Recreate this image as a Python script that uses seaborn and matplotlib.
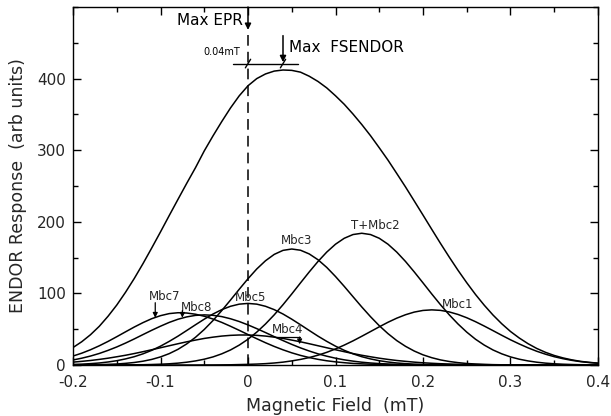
import numpy as np
import pandas as pd
import matplotlib
matplotlib.use("Agg")
import matplotlib.pyplot as plt
import seaborn as sns
from matplotlib.ticker import MultipleLocator

# ---- data (field step 0.01 mT) ----
field = [-0.20, -0.19, -0.18, -0.17, -0.16, -0.15, -0.14, -0.13, -0.12, -0.11,
         -0.10, -0.09, -0.08, -0.07, -0.06, -0.05, -0.04, -0.03, -0.02, -0.01,
         0.00, 0.01, 0.02, 0.03, 0.04, 0.05, 0.06, 0.07, 0.08, 0.09,
         0.10, 0.11, 0.12, 0.13, 0.14, 0.15, 0.16, 0.17, 0.18, 0.19,
         0.20, 0.21, 0.22, 0.23, 0.24, 0.25, 0.26, 0.27, 0.28, 0.29,
         0.30, 0.31, 0.32, 0.33, 0.34, 0.35, 0.36, 0.37, 0.38, 0.39, 0.40]

total = [24.4, 32.5, 42.3, 54.0, 68.0, 83.7, 101.5, 120.8, 141.6, 163.5,
         185.9, 208.8, 231.4, 253.8, 275.6, 299.0, 320.0, 340.0, 359.0, 376.0,
         390.0, 400.0, 406.5, 410.5, 412.0, 411.5, 409.0, 403.3, 396.0, 387.0,
         376.0, 364.1, 350.5, 335.9, 320.3, 303.4, 286.1, 267.5, 248.7, 229.1,
         209.4, 189.5, 169.8, 150.7, 132.3, 114.9, 98.5, 83.5, 69.8, 57.6,
         46.8, 37.7, 29.8, 23.1, 17.7, 13.3, 9.9, 7.2, 5.1, 3.7, 2.6]

mbc1 = [0, 0, 0, 0, 0, 0, 0, 0, 0, 0,
        0, 0, 0, 0, 0, 0.1, 0.1, 0.2, 0.3, 0.6,
        0.9, 1.3, 1.9, 2.8, 4.0, 5.7, 7.8, 10.4, 13.7, 17.7,
        22.4, 27.8, 33.7, 40.1, 46.7, 53.3, 59.7, 65.4, 70.2, 73.9,
        76.2, 77.0, 76.3, 74.1, 70.6, 66.0, 60.5, 54.4, 48.0, 41.5,
        35.2, 29.4, 24.0, 19.2, 15.1, 11.6, 8.8, 6.5, 4.7, 3.4, 2.4]

t_mbc2 = [0, 0, 0, 0, 0.1, 0.1, 0.2, 0.3, 0.4, 0.7,
          1.1, 1.7, 2.6, 3.9, 5.7, 8.1, 11.3, 15.6, 21.0, 27.8,
          36.0, 45.9, 57.3, 70.1, 84.2, 99.2, 114.7, 130.0, 144.6, 157.7,
          168.7, 177.0, 182.2, 184.0, 182.2, 177.0, 168.7, 157.7, 144.6, 130.0,
          114.7, 99.2, 84.2, 70.1, 57.3, 45.9, 36.0, 27.8, 21.0, 15.6,
          11.3, 8.1, 5.7, 3.9, 2.6, 1.7, 1.1, 0.7, 0.4, 0.3, 0.2]

mbc3 = [0.1, 0.2, 0.3, 0.5, 0.9, 1.4, 2.3, 3.5, 5.3, 7.8,
        11.3, 15.9, 21.9, 29.5, 38.7, 49.6, 62.1, 76.0, 90.7, 105.8,
        120.5, 134.1, 145.6, 154.5, 160.1, 162.0, 160.3, 155.1, 147.0, 136.3,
        123.6, 109.8, 95.4, 81.1, 67.5, 54.9, 43.8, 34.1, 26.1, 19.5,
        14.2, 10.2, 7.1, 4.9, 3.3, 2.1, 1.4, 0.9, 0.5, 0.3,
        0.2, 0.1, 0.1, 0, 0, 0, 0, 0, 0, 0, 0]

mbc4 = [4.0, 5.1, 6.3, 7.8, 9.5, 11.5, 13.6, 16.0, 18.6, 21.3,
        24.1, 26.9, 29.7, 32.4, 34.8, 37.1, 38.9, 40.4, 41.4, 41.9,
        41.9, 41.4, 40.4, 38.9, 37.1, 34.8, 32.4, 29.7, 26.9, 24.1,
        21.3, 18.6, 16.0, 13.6, 11.5, 9.5, 7.8, 6.3, 5.1, 4.0,
        3.1, 2.4, 1.8, 1.4, 1.0, 0.8, 0.6, 0.4, 0.3, 0.2,
        0.1, 0.1, 0, 0, 0, 0, 0, 0, 0, 0, 0]

mbc5 = [0.8, 1.2, 1.9, 2.8, 4.2, 6.0, 8.5, 11.6, 15.6, 20.5,
        26.3, 33.0, 40.3, 48.2, 56.2, 64.0, 71.2, 77.3, 82.0, 85.0,
        86.0, 85.0, 82.0, 77.3, 71.2, 64.0, 56.2, 48.2, 40.3, 33.0,
        26.3, 20.5, 15.6, 11.6, 8.5, 6.0, 4.2, 2.8, 1.9, 1.2,
        0.8, 0.5, 0.3, 0.2, 0.1, 0.1, 0, 0, 0, 0,
        0, 0, 0, 0, 0, 0, 0, 0, 0, 0, 0]

mbc7 = [12.5, 16.5, 21.3, 26.8, 32.9, 39.5, 46.3, 53.0, 59.2, 64.7,
        68.9, 71.8, 73.0, 72.6, 70.9, 68.1, 64.2, 59.5, 54.1, 48.4,
        42.5, 36.7, 31.1, 25.9, 21.2, 17.0, 13.4, 10.4, 7.9, 5.9,
        4.4, 3.2, 2.2, 1.6, 1.1, 0.7, 0.5, 0.3, 0.2, 0.1,
        0.1, 0, 0, 0, 0, 0, 0, 0, 0, 0,
        0, 0, 0, 0, 0, 0, 0, 0, 0, 0, 0]

mbc8 = [7.0, 9.5, 12.5, 16.1, 20.4, 25.2, 30.6, 36.4, 42.5, 48.5,
        54.2, 59.5, 63.9, 67.2, 69.3, 70.0, 69.4, 67.6, 64.6, 60.7,
        56.0, 50.8, 45.3, 39.6, 34.1, 28.8, 23.9, 19.5, 15.6, 12.3,
        9.5, 7.2, 5.4, 3.9, 2.8, 2.0, 1.4, 0.9, 0.6, 0.4,
        0.3, 0.2, 0.1, 0, 0, 0, 0, 0, 0, 0,
        0, 0, 0, 0, 0, 0, 0, 0, 0, 0, 0]

curve_names = ["FSENDOR", "Mbc1", "T+Mbc2", "Mbc3", "Mbc4", "Mbc5", "Mbc7", "Mbc8"]
curve_values = [total, mbc1, t_mbc2, mbc3, mbc4, mbc5, mbc7, mbc8]

x_ticks = [-0.2, -0.1, 0.0, 0.1, 0.2, 0.3, 0.4]
x_tick_labels = ["-0.2", "-0.1", "0", "0.1", "0.2", "0.3", "0.4"]
y_ticks = [0, 100, 200, 300, 400]
y_tick_labels = ["0", "100", "200", "300", "400"]

# ---- build long-form table ----
rows = []
for name, vals in zip(curve_names, curve_values):
    for xv, yv in zip(field, vals):
        rows.append({"field": xv, "response": yv, "curve": name})
df = pd.DataFrame(rows)

sns.set_theme(style="ticks")
plt.rcParams['font.family'] = ['DejaVu Sans']
plt.rcParams['axes.linewidth'] = 1.0

fig = plt.figure(figsize=(6.11, 4.16), dpi=100)
W, H = 611, 416
left, right, top, bottom = 73, 598, 7, 365
ax = fig.add_axes([left / W, 1 - bottom / H, (right - left) / W, (bottom - top) / H])

sns.lineplot(data=df, x="field", y="response", hue="curve", units="curve",
             estimator=None, sort=False, palette={n: "black" for n in curve_names},
             legend=False, linewidth=1.1, ax=ax)

ax.set_xlim(-0.2, 0.4)
ax.set_ylim(0, 500)
ax.set_xticks(x_ticks)
ax.set_xticklabels(x_tick_labels)
ax.set_yticks(y_ticks)
ax.set_yticklabels(y_tick_labels)
ax.xaxis.set_minor_locator(MultipleLocator(0.05))
ax.yaxis.set_minor_locator(MultipleLocator(50))
ax.tick_params(which="both", direction="in", top=True, right=True, color="black")
ax.tick_params(which="major", length=6, width=1.0, labelsize=11)
ax.tick_params(axis="x", which="major", pad=7)
ax.tick_params(axis="y", which="major", pad=5)
ax.tick_params(which="minor", length=3.5, width=1.0)
for s in ax.spines.values():
    s.set_color("black")

ax.set_xlabel("Magnetic Field  (mT)", fontsize=12.5, labelpad=5)
ax.set_ylabel("ENDOR Response  (arb units)", fontsize=12.5, labelpad=7)

# dashed line at max EPR
ax.plot([0, 0], [0, 462], color="black", lw=1.1, linestyle=(0, (7, 4)))

# Max EPR arrow + text
ax.annotate("", xy=(0, 468), xytext=(0, 500),
            arrowprops=dict(arrowstyle="-|>", color="black", lw=1.1, mutation_scale=9,
                            shrinkA=0, shrinkB=0), annotation_clip=False)
ax.text(-0.006, 481, "Max EPR", ha="right", va="center", fontsize=11, color="black")

# Max FSENDOR arrow + text
ax.annotate("", xy=(0.04, 423), xytext=(0.04, 460),
            arrowprops=dict(arrowstyle="-|>", color="black", lw=1.1, mutation_scale=9,
                            shrinkA=0, shrinkB=0))
ax.text(0.047, 444, "Max  FSENDOR", ha="left", va="center", fontsize=11, color="black")

# 0.04 mT bar
ax.plot([-0.017, 0.057], [421, 421], color="black", lw=1.0)
for xm in (0.0, 0.04):
    ax.plot([xm - 0.003, xm + 0.003], [415, 427], color="black", lw=1.0)
ax.text(-0.03, 437, "0.04mT", ha="center", va="center", fontsize=7, color="black")

# curve labels
lab_fs = 8.5
ax.text(-0.095, 95, "Mbc7", ha="center", va="center", fontsize=lab_fs)
ax.text(-0.059, 81, "Mbc8", ha="center", va="center", fontsize=lab_fs)
ax.text(0.003, 94, "Mbc5", ha="center", va="center", fontsize=lab_fs)
ax.text(0.045, 49, "Mbc4", ha="center", va="center", fontsize=lab_fs)
ax.text(0.055, 174, "Mbc3", ha="center", va="center", fontsize=lab_fs)
ax.text(0.145, 195, "T+Mbc2", ha="center", va="center", fontsize=lab_fs)
ax.text(0.24, 84, "Mbc1", ha="center", va="center", fontsize=lab_fs)

arrow_kw = dict(arrowstyle="-|>", color="black", lw=0.9, mutation_scale=7, shrinkA=0, shrinkB=0)
ax.annotate("", xy=(-0.106, 66), xytext=(-0.106, 87), arrowprops=arrow_kw)
ax.annotate("", xy=(-0.075, 66), xytext=(-0.075, 76), arrowprops=arrow_kw)
ax.plot([0.033, 0.059], [39, 39], color="black", lw=0.9)
ax.annotate("", xy=(0.059, 29), xytext=(0.059, 39), arrowprops=arrow_kw)

fig.savefig("out.png", dpi=100)
